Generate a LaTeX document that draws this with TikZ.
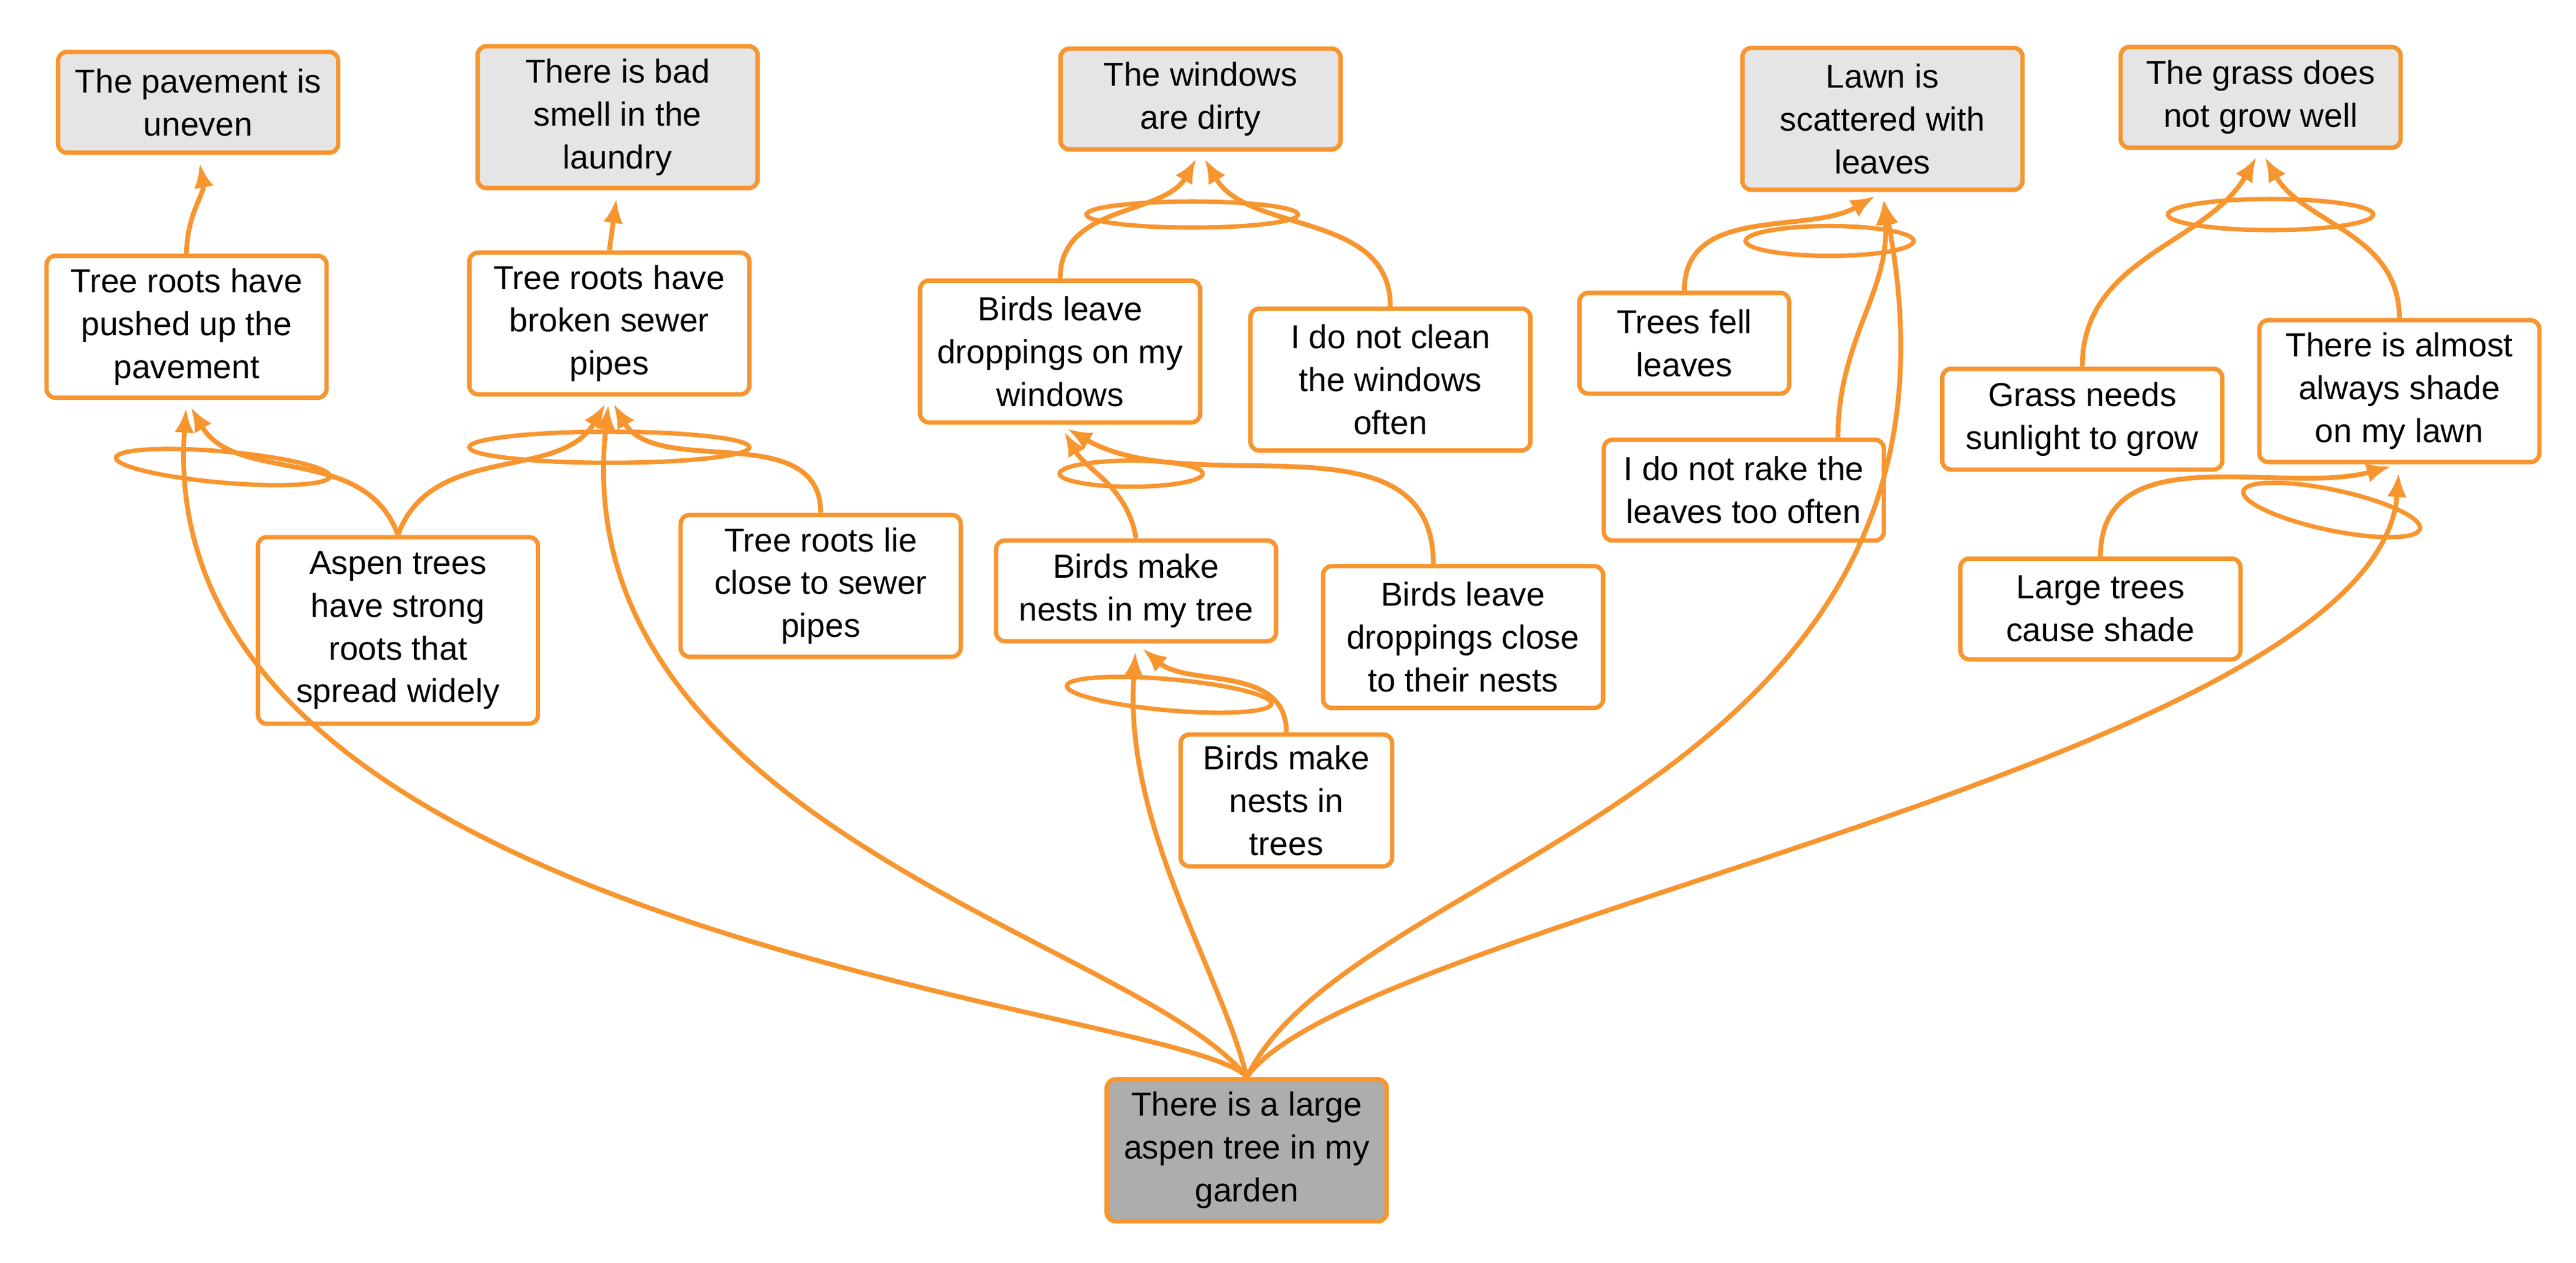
\documentclass[tikz,border=0pt]{standalone}
\usepackage{fontspec}
\setmainfont{Liberation Sans}
\usepackage{tikz}
\usetikzlibrary{shapes.geometric, arrows.meta}
\definecolor{orng}{HTML}{F7952F}
\tikzstyle{cause} = [rectangle, rounded corners=4pt, draw=orng, line width=2pt, fill=white, align=center, inner sep=0pt, minimum width=4.5cm, minimum height=1.62cm, font=\fontsize{15.2}{19.6}\selectfont]
\tikzstyle{effect} = [cause, fill=black!10]
\tikzstyle{core} = [cause, fill=black!32]
\tikzstyle{andring} = [ellipse, draw=orng, line width=2pt, inner sep=0pt]
\tikzstyle{arrow} = [draw=orng, line width=2.2pt, -{Latex[length=11pt,width=9pt]}, shorten >=4pt]

\begin{document}
\begin{tikzpicture}[x=0.02654cm, y=-0.02654cm]
	\useasboundingbox (0,0) rectangle (1560,765);
	\node (pave) [effect] at (120,62) {The pavement is\\uneven};
	\node (smell) [effect, minimum height=2.28cm] at (374,71) {There is bad\\smell in the\\laundry};
	\node (windows) [effect] at (727,60) {The windows\\are dirty};
	\node (lawn) [effect, minimum height=2.28cm] at (1140,72) {Lawn is\\scattered with\\leaves};
	\node (grass) [effect] at (1369,59) {The grass does\\not grow well};
	\node (pushed) [cause, minimum height=2.28cm] at (113,198) {Tree roots have\\pushed up the\\pavement};
	\node (broken) [cause, minimum height=2.28cm] at (369,196) {Tree roots have\\broken sewer\\pipes};
	\node (droponwin) [cause, minimum height=2.28cm] at (642,213) {Birds leave\\droppings on my\\windows};
	\node (noclean) [cause, minimum height=2.28cm] at (842,230) {I do not clean\\the windows\\often};
	\node (fell) [cause, minimum width=3.37cm] at (1020,208) {Trees fell\\leaves};
	\node (norake) [cause] at (1056,297) {I do not rake the\\leaves too often};
	\node (sunlight) [cause] at (1261,254) {Grass needs\\sunlight to grow};
	\node (shade) [cause, minimum height=2.28cm] at (1453,237) {There is almost\\always shade\\on my lawn};
	\node (strong) [cause, minimum height=3cm] at (241,382) {Aspen trees\\have strong\\roots that\\spread widely};
	\node (closeto) [cause, minimum height=2.28cm] at (497,355) {Tree roots lie\\close to sewer\\pipes};
	\node (nestmy) [cause] at (688,358) {Birds make\\nests in my tree};
	\node (dropnest) [cause, minimum height=2.28cm] at (886,386) {Birds leave\\droppings close\\to their nests};
	\node (large) [cause] at (1272,369) {Large trees\\cause shade};
	\node (nests) [cause, minimum width=3.4cm, minimum height=2.12cm] at (779,485) {Birds make\\nests in\\trees};
	\node (aspen) [core, minimum height=2.28cm] at (755,697) {There is a large\\aspen tree in my\\garden};

	% and-rings
	\node (andpave) [andring, rotate=-5, minimum width=3.45cm, minimum height=0.5cm] at (135,283) {};
	\node (andsmell) [andring, minimum width=4.5cm, minimum height=0.5cm] at (369,271) {};
	\node (andwin) [andring, minimum width=3.4cm, minimum height=0.42cm] at (722,130) {};
	\node (anddrop) [andring, minimum width=2.3cm, minimum height=0.42cm] at (685,287) {};
	\node (andnest) [andring, rotate=-5, minimum width=3.3cm, minimum height=0.5cm] at (708,421) {};
	\node (andlawn) [andring, minimum width=2.7cm, minimum height=0.48cm] at (1108,146) {};
	\node (andgrass) [andring, minimum width=3.3cm, minimum height=0.5cm] at (1375,130) {};
	\node (andshade) [andring, rotate=-12, minimum width=2.9cm, minimum height=0.65cm] at (1412,309) {};

	\draw [arrow] (pushed.north) to[out=90,in=-80] (pave.south);
	\draw [arrow] (broken.north) -- (smell.south);
	\draw [arrow] (strong.north) to[out=110,in=-60] (pushed.south);
	\draw [arrow] (strong.north) to[out=70,in=-120] (broken.south);
	\draw [arrow] (closeto.north) to[out=90,in=-60] (broken.south);
	\draw [arrow] (droponwin.north) to[out=90,in=-120] (windows.south);
	\draw [arrow] (noclean.north) to[out=90,in=-60] (windows.south);
	\draw [arrow] (nestmy.north) to[out=100,in=-60] (droponwin.south);
	\draw [arrow] (dropnest.north -| 868,0) to[out=90,in=-30] (droponwin.south);
	\draw [arrow] (nests.north) to[out=90,in=-40] (nestmy.south);
	\draw [arrow] (fell.north) to[out=90,in=-150] (lawn.south);
	\draw [arrow] (norake.north -| 1113,0) to[out=90,in=-85] (lawn.south);
	\draw [arrow] (sunlight.north) to[out=90,in=-120] (grass.south);
	\draw [arrow] (shade.north) to[out=90,in=-60] (grass.south);
	\draw [arrow] (large.north) to[out=90,in=-165] (shade.south);

	\draw [arrow] (aspen.north) .. controls (720,610) and (90,570) .. (pushed.south);
	\draw [arrow] (aspen.north) .. controls (690,570) and (340,500) .. (broken.south);
	\draw [arrow] (aspen.north) .. controls (740,590) and (680,500) .. (nestmy.south);
	\draw [arrow] (aspen.north) .. controls (820,520) and (1210,480) .. (lawn.south);
	\draw [arrow] (aspen.north) .. controls (820,560) and (1440,460) .. (shade.south);
\end{tikzpicture}
\end{document}
